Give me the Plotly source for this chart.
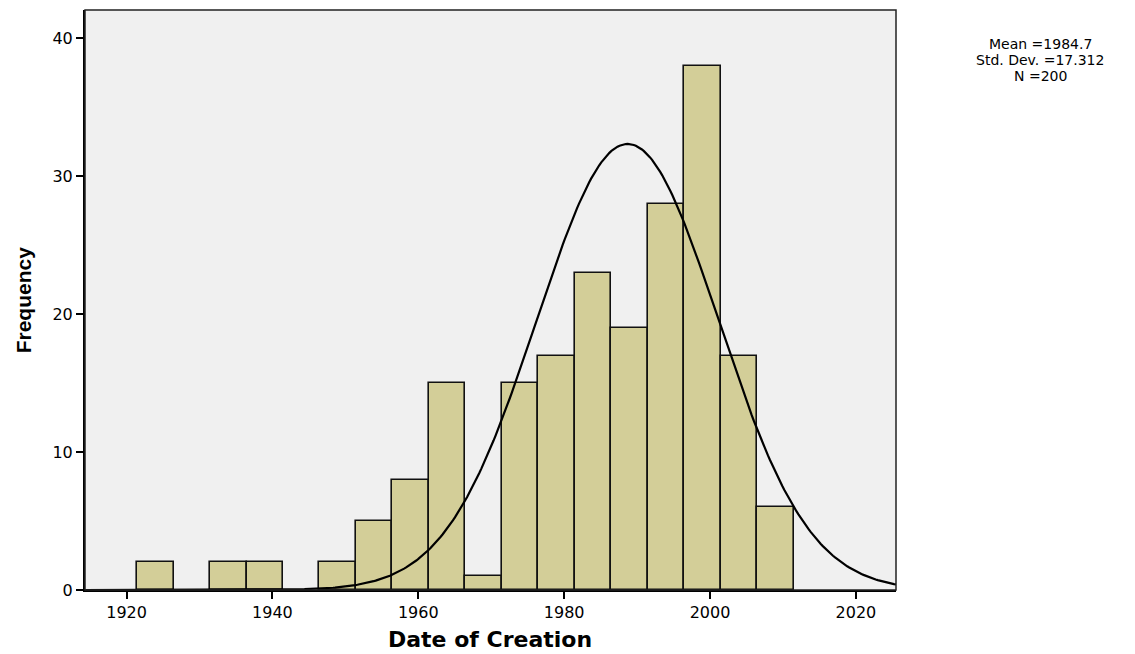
import math
import plotly.graph_objects as go

# Histogram data (5-year bins)
bin_start = 1921.45
bin_width = 5
counts = [2, 0, 2, 2, 0, 2, 5, 8, 15, 1, 15, 17, 23, 19, 28, 38, 17, 6]

# Fitted normal curve parameters (as drawn)
curve_mean = 1988.7
curve_sd = 12.43
curve_peak = 32.34

x_ticks = [1920, 1940, 1960, 1980, 2000, 2020]
y_ticks = [0, 10, 20, 30, 40]
stats_lines = ["Mean =1984.7", "Std. Dev. =17.312", "N =200"]
x_title = "Date of Creation"
y_title = "Frequency"

x_range = [1914.3, 2025.5]
y_range = [0, 42.05]

centers = []
heights = []
for i, c in enumerate(counts):
    if c > 0:
        centers.append(bin_start + bin_width * i + bin_width / 2)
        heights.append(c)

fig = go.Figure()
fig.add_trace(go.Bar(
    x=centers, y=heights, width=bin_width,
    marker=dict(color="#D3CE98", line=dict(color="#111111", width=1.6)),
    showlegend=False, hoverinfo="x+y",
))

n = 400
cx = [x_range[0] + (x_range[1] - x_range[0]) * k / (n - 1) for k in range(n)]
cy = [curve_peak * math.exp(-((v - curve_mean) ** 2) / (2 * curve_sd ** 2)) for v in cx]
fig.add_trace(go.Scatter(x=cx, y=cy, mode="lines",
                         line=dict(color="black", width=2.2),
                         showlegend=False, hoverinfo="skip"))

font_family = "DejaVu Sans, Verdana, sans-serif"
fig.update_layout(
    width=1127, height=646,
    margin=dict(l=77, r=239, t=2, b=64),
    paper_bgcolor="white",
    plot_bgcolor="#F0F0F0",
    bargap=0,
    font=dict(family=font_family, color="black", size=16),
    xaxis=dict(
        range=x_range, tickvals=x_ticks, ticktext=[str(t) for t in x_ticks],
        showgrid=False, zeroline=False,
        showline=True, linecolor="black", linewidth=2,
        ticks="outside", ticklen=7, tickwidth=2, tickcolor="black",
        tickfont=dict(size=16),
    ),
    yaxis=dict(
        range=y_range, tickvals=y_ticks,
        showgrid=False, zeroline=False,
        showline=True, linecolor="black", linewidth=2,
        ticks="outside", ticklen=7, tickwidth=2, tickcolor="black",
        tickfont=dict(size=16),
    ),
)

fig.add_shape(type="rect", xref="paper", yref="paper", x0=0, y0=0, x1=1, y1=1,
              line=dict(color="#222222", width=1.5), fillcolor="rgba(0,0,0,0)", layer="above")

# Axis titles
fig.add_annotation(xref="paper", yref="paper", x=0.4994, y=-0.0862,
                   text="<b>" + x_title + "</b>", showarrow=False,
                   xanchor="center", yanchor="middle",
                   font=dict(size=22, family="DejaVu Sans, sans-serif", color="black"))
fig.add_annotation(xref="paper", yref="paper", x=-0.076, y=0.5,
                   text="<b>" + y_title + "</b>", showarrow=False, textangle=-90,
                   xanchor="center", yanchor="middle",
                   font=dict(size=21, family="Liberation Sans Narrow, Liberation Sans, sans-serif",
                             color="black"))

stat_ys = [0.9414, 0.9138, 0.8862]
for s, yy in zip(stats_lines, stat_ys):
    fig.add_annotation(
        xref="paper", yref="paper", x=1.1776, y=yy,
        text=s, showarrow=False, xanchor="center", yanchor="middle",
        font=dict(size=14, family=font_family, color="black"),
    )

fig.write_html("out.html")
